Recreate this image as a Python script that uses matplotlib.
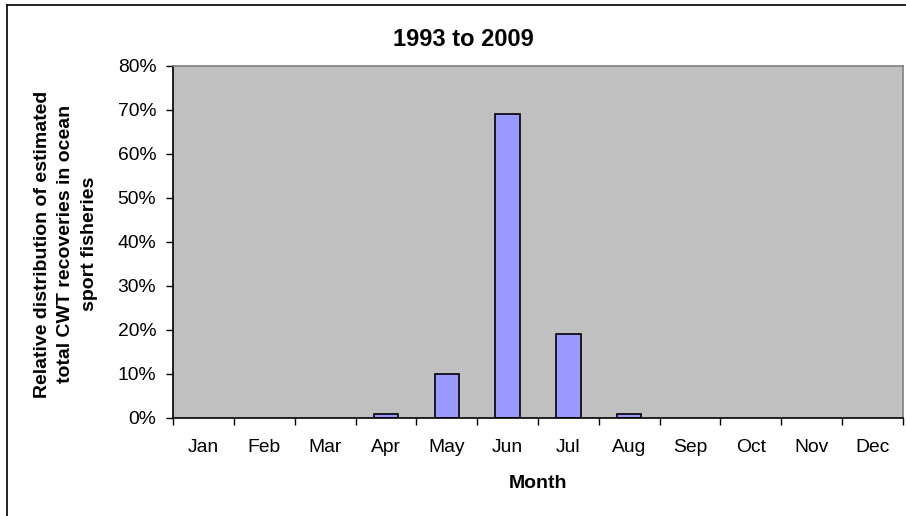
import numpy as np
import matplotlib
matplotlib.use("Agg")
import matplotlib.pyplot as plt
from matplotlib.lines import Line2D
from matplotlib.ticker import FixedLocator, PercentFormatter

# Data
months = ['Jan', 'Feb', 'Mar', 'Apr', 'May', 'Jun',
          'Jul', 'Aug', 'Sep', 'Oct', 'Nov', 'Dec']
share = [0, 0, 0, 1, 10, 69, 19, 1, 0, 0, 0, 0]   # percent of recoveries
yticks = [0, 10, 20, 30, 40, 50, 60, 70, 80]

plt.rcParams['font.family'] = ['Liberation Sans', 'DejaVu Sans']

W, H = 906, 516
fig = plt.figure(figsize=(W / 100, H / 100), dpi=100)
ax = fig.add_axes([173 / W, 1 - 418 / H, (903 - 173) / W, (418 - 66) / H])

# plot area
ax.set_facecolor('#c0c0c0')
x = np.arange(len(months))
# Excel draws nothing for empty months, so no outline on zero bars
edges = [1.2 if v > 0 else 0 for v in share]
ax.bar(x, share, width=0.4, color='#9999ff', edgecolor='black', linewidth=edges, zorder=2)

ax.set_xlim(-0.5, len(months) - 0.5)
ax.set_ylim(0, 80)
ax.set_yticks(yticks)
ax.yaxis.set_major_formatter(PercentFormatter(decimals=0))

# labels centered in categories, tick marks on the boundaries
ax.set_xticks(x)
ax.set_xticklabels(months)
ax.xaxis.set_minor_locator(FixedLocator(np.arange(-0.5, len(months), 1)))
ax.tick_params(axis='x', which='major', length=0, pad=15, labelsize=13.9)
ax.tick_params(axis='x', which='minor', length=5, width=1, color='black', direction='out')
ax.tick_params(axis='y', length=5, width=1, pad=7, labelsize=13.9, direction='out')

for s in ['left', 'bottom']:
    ax.spines[s].set_color('black')
    ax.spines[s].set_linewidth(1.2)
for s in ['top', 'right']:
    ax.spines[s].set_color('#808080')
    ax.spines[s].set_linewidth(1.2)

# titles
fig.text(463 / W, 1 - 39 / H, '1993 to 2009', ha='center', va='center',
         fontsize=17, fontweight='bold')
fig.text(538 / W, 1 - 483 / H, 'Month', ha='center', va='center',
         fontsize=14, fontweight='bold')
fig.text(66 / W, 1 - 244 / H,
         'Relative distribution of estimated\ntotal CWT recoveries in ocean\nsport fisheries',
         ha='center', va='center', rotation=90, fontsize=14, fontweight='bold',
         multialignment='center', linespacing=1.5)

# chart-area border (only top and left edges visible)
fig.add_artist(Line2D([7 / W, 1.0], [1 - 5 / H, 1 - 5 / H], color='black', linewidth=1.2))
fig.add_artist(Line2D([7 / W, 7 / W], [0.0, 1 - 5 / H], color='black', linewidth=1.2))

fig.savefig('out.png', dpi=100)
